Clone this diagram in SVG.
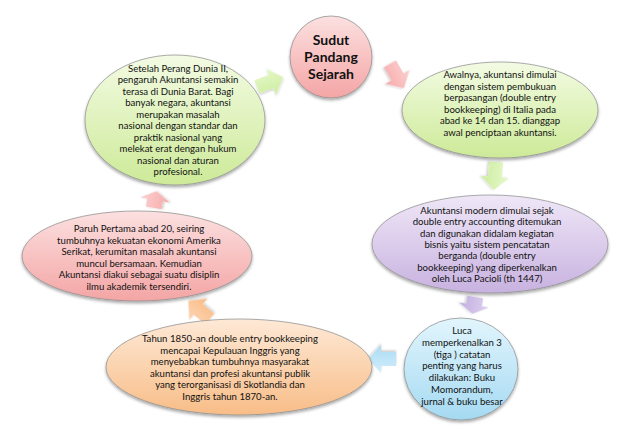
<svg xmlns="http://www.w3.org/2000/svg" width="617" height="439" viewBox="0 0 617 439">
<style>
.t{font-family:Lato,"Liberation Sans",sans-serif;font-size:9.6px;fill:#111;text-anchor:middle}
.h{font-family:Lato,"Liberation Sans",sans-serif;font-size:14px;font-weight:bold;fill:#111;text-anchor:middle}
.n{stroke:#8a8a8a;stroke-width:0.7;filter:url(#sh)}
.a{filter:url(#sha)}
</style>
<defs>
<filter id="sh" x="-20%" y="-20%" width="140%" height="150%"><feDropShadow dx="0" dy="2" stdDeviation="1.6" flood-color="#000" flood-opacity="0.35"/></filter>
<filter id="sha" x="-30%" y="-30%" width="160%" height="160%"><feDropShadow dx="0" dy="1.5" stdDeviation="1.2" flood-color="#000" flood-opacity="0.2"/></filter>
<linearGradient id="gG" x1="0" y1="0" x2="0" y2="1"><stop offset="0" stop-color="#f3fbe3"/><stop offset="1" stop-color="#cdea98"/></linearGradient>
<linearGradient id="gP" x1="0" y1="0" x2="0" y2="1"><stop offset="0" stop-color="#fce0e0"/><stop offset="1" stop-color="#f4a5a5"/></linearGradient>
<linearGradient id="gV" x1="0" y1="0" x2="0" y2="1"><stop offset="0" stop-color="#efe7f7"/><stop offset="1" stop-color="#c8b2e0"/></linearGradient>
<linearGradient id="gB" x1="0" y1="0" x2="0" y2="1"><stop offset="0" stop-color="#e2f5fd"/><stop offset="1" stop-color="#a5daf2"/></linearGradient>
<linearGradient id="gO" x1="0" y1="0" x2="0" y2="1"><stop offset="0" stop-color="#fee9d6"/><stop offset="1" stop-color="#f8bd88"/></linearGradient>
<linearGradient id="aG" x1="0" y1="0" x2="0" y2="1"><stop offset="0" stop-color="#e6f7c9"/><stop offset="1" stop-color="#cdeea0"/></linearGradient>
<linearGradient id="aP" x1="0" y1="0" x2="0" y2="1"><stop offset="0" stop-color="#fcd0d0"/><stop offset="1" stop-color="#f6abab"/></linearGradient>
<linearGradient id="aV" x1="0" y1="0" x2="0" y2="1"><stop offset="0" stop-color="#ddd0ee"/><stop offset="1" stop-color="#c3aee0"/></linearGradient>
<linearGradient id="aB" x1="0" y1="0" x2="0" y2="1"><stop offset="0" stop-color="#d2eefb"/><stop offset="1" stop-color="#aadcf4"/></linearGradient>
<linearGradient id="aO" x1="0" y1="0" x2="0" y2="1"><stop offset="0" stop-color="#fdd6b4"/><stop offset="1" stop-color="#f9bb86"/></linearGradient>
<path id="arr" d="M-14,-7 L1,-7 L1,-14 L14,0 L1,14 L1,7 L-14,7 Z"/>
<path id="arrS" d="M-8,-8 L0,-8 L0,-15 L9,0 L0,15 L0,8 L-8,8 Z"/>
</defs>
<rect width="617" height="439" fill="#fff"/>

<g id="connectors">
<use href="#arr" class="a" fill="url(#aG)" transform="translate(270,82) rotate(-20)"/>
<use href="#arr" class="a" fill="url(#aP)" transform="translate(397,76) rotate(60)"/>
<use href="#arr" class="a" fill="url(#aG)" transform="translate(495,176) rotate(95)"/>
<use href="#arrS" class="a" fill="url(#aV)" transform="translate(474,305) rotate(100)"/>
<use href="#arr" class="a" fill="url(#aB)" transform="translate(382,359) rotate(180)"/>
<use href="#arr" class="a" fill="url(#aO)" transform="translate(199,310) rotate(-140)"/>
<use href="#arrS" class="a" fill="url(#aP)" transform="translate(155,200) rotate(-80)"/>
</g>

<g id="node-title">
<circle class="n" cx="331" cy="57" r="41" fill="url(#gP)"/>
<text class="h" x="331" y="45">Sudut</text>
<text class="h" x="331" y="62">Pandang</text>
<text class="h" x="331" y="79">Sejarah</text>
</g>

<g id="node-awalnya">
<ellipse class="n" cx="500" cy="110" rx="98" ry="48" fill="url(#gG)"/>
<text class="t" x="500" y="78">Awalnya, akuntansi dimulai</text>
<text class="t" x="500" y="89.6">dengan sistem pembukuan</text>
<text class="t" x="500" y="101.2">berpasangan (double  entry</text>
<text class="t" x="500" y="112.8">bookkeeping) di Italia pada</text>
<text class="t" x="500" y="124.4">abad ke 14 dan 15. dianggap</text>
<text class="t" x="500" y="136">awal penciptaan  akuntansi.</text>
</g>

<g id="node-modern">
<ellipse class="n" cx="490" cy="244" rx="118" ry="49" fill="url(#gV)"/>
<text class="t" x="487" y="214">Akuntansi modern  dimulai  sejak</text>
<text class="t" x="487" y="225.3">double entry accounting  ditemukan</text>
<text class="t" x="487" y="236.6">dan digunakan didalam  kegiatan</text>
<text class="t" x="487" y="248">bisnis yaitu sistem pencatatan</text>
<text class="t" x="487" y="259.3">berganda (double entry</text>
<text class="t" x="487" y="270.6">bookkeeping) yang diperkenalkan</text>
<text class="t" x="487" y="282">oleh Luca Pacioli  (th 1447)</text>
</g>

<g id="node-luca">
<ellipse class="n" cx="461" cy="369" rx="57" ry="51" fill="url(#gB)"/>
<text class="t" x="462" y="334">Luca</text>
<text class="t" x="462" y="345.8">memperkenalkan 3</text>
<text class="t" x="462" y="357.6">(tiga ) catatan</text>
<text class="t" x="462" y="369.4">penting  yang harus</text>
<text class="t" x="462" y="381.2">dilakukan: Buku</text>
<text class="t" x="462" y="393">Momorandum,</text>
<text class="t" x="462" y="404.8">jurnal  &amp; buku besar</text>
</g>

<g id="node-1850">
<ellipse class="n" cx="239" cy="367" rx="133" ry="48" fill="url(#gO)"/>
<text class="t" x="230" y="342">Tahun 1850-an double  entry bookkeeping</text>
<text class="t" x="230" y="353.6">mencapai Kepulauan  Inggris yang</text>
<text class="t" x="230" y="365.2">menyebabkan tumbuhnya  masyarakat</text>
<text class="t" x="230" y="376.8">akuntansi dan profesi  akuntansi publik</text>
<text class="t" x="230" y="388.4">yang terorganisasi  di Skotlandia dan</text>
<text class="t" x="230" y="400">Inggris tahun  1870-an.</text>
</g>

<g id="node-paruh">
<ellipse class="n" cx="137" cy="256" rx="115" ry="45" fill="url(#gP)"/>
<text class="t" x="139" y="232">Paruh Pertama  abad 20, seiring</text>
<text class="t" x="139" y="243.6">tumbuhnya  kekuatan ekonomi Amerika</text>
<text class="t" x="139" y="255.2">Serikat, kerumitan  masalah akuntansi</text>
<text class="t" x="139" y="266.8">muncul  bersamaan. Kemudian</text>
<text class="t" x="139" y="278.4">Akuntansi diakui sebagai suatu disiplin</text>
<text class="t" x="139" y="290">ilmu akademik tersendiri.</text>
</g>

<g id="node-setelah">
<ellipse class="n" cx="175" cy="120" rx="90" ry="65" fill="url(#gG)"/>
<text class="t" x="178" y="72">Setelah Perang Dunia II,</text>
<text class="t" x="178" y="83.4">pengaruh  Akuntansi semakin</text>
<text class="t" x="178" y="94.9">terasa di Dunia Barat. Bagi</text>
<text class="t" x="178" y="106.3">banyak negara, akuntansi</text>
<text class="t" x="178" y="117.8">merupakan masalah</text>
<text class="t" x="178" y="129.2">nasional dengan standar  dan</text>
<text class="t" x="178" y="140.6">praktik nasional yang</text>
<text class="t" x="178" y="152.1">melekat erat dengan hukum</text>
<text class="t" x="178" y="163.5">nasional dan aturan</text>
<text class="t" x="178" y="175">profesional.</text>
</g>
</svg>
